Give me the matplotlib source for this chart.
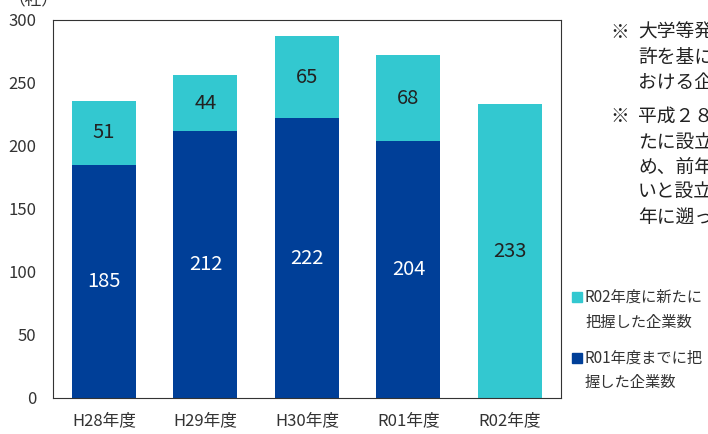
import numpy as np
import matplotlib
matplotlib.use("Agg")
import matplotlib.pyplot as plt

plt.rcParams['font.family'] = ['Noto Sans CJK JP', 'DejaVu Sans']

#data
years = ["H28年度", "H29年度", "H30年度", "R01年度", "R02年度"]
known = [185, 212, 222, 204, 0]      # R01年度までに把握した企業数
new = [51, 44, 65, 68, 233]          # R02年度に新たに把握した企業数
y_ticks = [0, 50, 100, 150, 200, 250, 300]

dark_blue = "#003f98"
cyan = "#33c8d0"

fig = plt.figure(figsize=(7.08, 4.34), dpi=100)
ax = fig.add_axes([0.075, 0.083, 0.717, 0.871])

x = np.arange(len(years))
known = np.array(known)
new = np.array(new)
ax.bar(x, known, width=0.63, color=dark_blue, zorder=2)
ax.bar(x, new, width=0.63, bottom=known, color=cyan, zorder=2)

#value labels inside the bars
for i in range(len(years)):
    if known[i] > 0:
        ax.text(x[i], known[i] / 2, str(known[i]), ha="center", va="center",
                color="white", fontsize=14.5)
    ax.text(x[i], known[i] + new[i] / 2, str(new[i]), ha="center", va="center",
            color="#222222", fontsize=14.5)

ax.set_xlim(-0.5, 4.5)
ax.set_ylim(0, 300)
ax.set_yticks(y_ticks)
ax.set_xticks(x)
ax.set_xticklabels(years)
ax.tick_params(axis="both", length=0, labelsize=12, colors="#333333")
ax.tick_params(axis="x", pad=10)
ax.tick_params(axis="y", pad=12)
for s in ax.spines.values():
    s.set_linewidth(0.8)
    s.set_color("#333333")

#unit label (mostly cut off at the top)
fig.text(0.012, 1.0, "（社）", fontsize=12, color="#333333", va="center")

#notes on the right, cut off by the figure edge like in the reference
note1 = ["大学等発ベンチャー", "許を基に作成", "おける企業数"]
note2 = ["平成２８年度", "たに設立された", "め、前年度以前", "いと設立年度", "年に遡って"]
for lines, ys in [(note1, [32, 57, 82]), (note2, [117, 142, 167, 192, 217])]:
    fig.text(610 / 708, 1 - ys[0] / 434, "※", fontsize=13.5, color="#222222", va="center")
    for line, yp in zip(lines, ys):
        fig.text(638 / 708, 1 - yp / 434, line, fontsize=13.5, color="#222222", va="center")

#legend drawn by hand on the right
legend_items = [(cyan, "R02年度に新たに", "把握した企業数", 297),
                (dark_blue, "R01年度までに把", "握した企業数", 358)]
for col, l1, l2, yp in legend_items:
    fig.patches.append(plt.Rectangle((572 / 708, 1 - (yp + 5) / 434), 10 / 708, 10 / 434,
                                     transform=fig.transFigure, color=col))
    fig.text(585 / 708, 1 - yp / 434, l1, fontsize=11, color="#333333", va="center")
    fig.text(585 / 708, 1 - (yp + 25) / 434, l2, fontsize=11, color="#333333", va="center")

fig.savefig("out.png", dpi=100)
